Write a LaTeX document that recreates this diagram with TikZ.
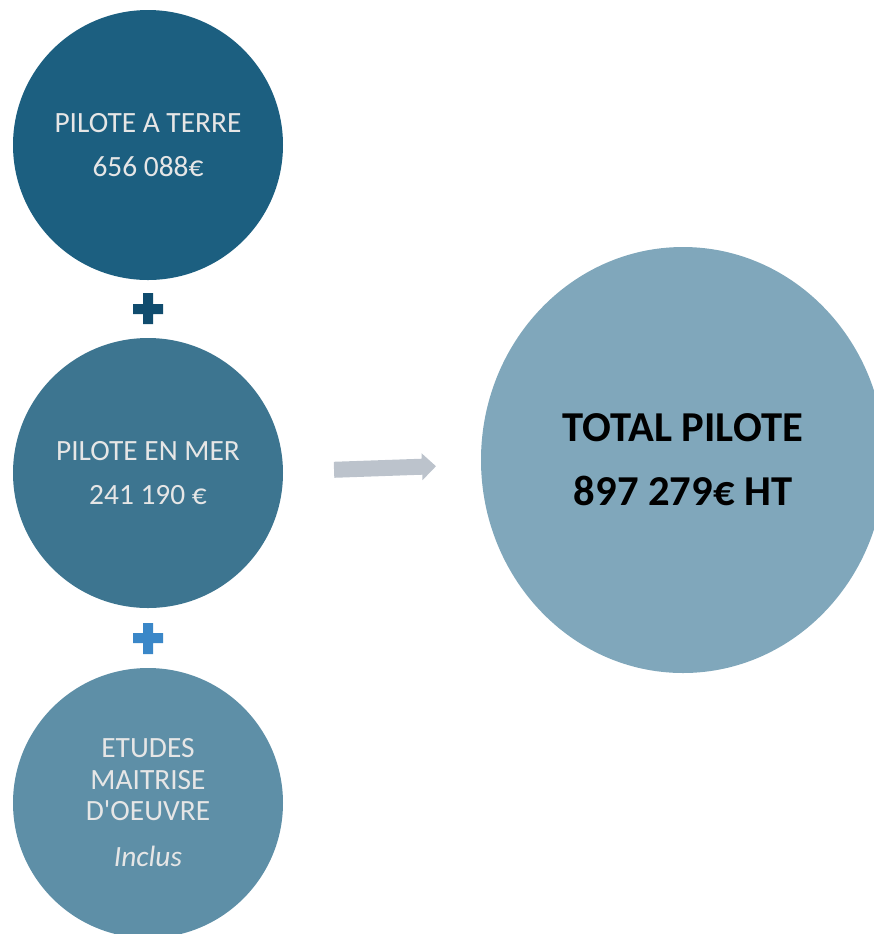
\documentclass[tikz,border=0pt]{standalone}
\usepackage{fontspec}
\setmainfont{Carlito}
\definecolor{terreblue}{RGB}{28, 95, 128}
\definecolor{merblue}{RGB}{61, 117, 144}
\definecolor{etudeblue}{RGB}{94, 143, 167}
\definecolor{totalblue}{RGB}{128, 167, 187}
\definecolor{plusdark}{RGB}{16, 76, 110}
\definecolor{pluslight}{RGB}{58, 135, 200}
\definecolor{arrowgrey}{RGB}{188, 195, 204}
\definecolor{labelgrey}{RGB}{230, 230, 230}
\usetikzlibrary{shapes.geometric, positioning, calc}

\begin{document}
\begin{tikzpicture}[x=0.5pt, y=-0.5pt,
    costcircle/.style={circle, minimum size=135pt, inner sep=0pt, align=center,
      text=labelgrey, font=\fontsize{14.7}{22}\selectfont},
    plussign/.style={fill=#1}]
  \useasboundingbox (0,0) rectangle (874,934);
  \clip (0,0) rectangle (874,934);

  \node[costcircle, fill=terreblue] (terre) at (148,145) {PILOTE A TERRE\\656 088€};
  \node[costcircle, fill=merblue] (mer) at (148,473) {PILOTE EN MER\\241 190 €};
  \node[costcircle, fill=etudeblue, font=\fontsize{14.7}{15.75}\selectfont] (etudes) at (148,803)
    {ETUDES\\MAITRISE\\D\textquotesingle OEUVRE\\[7.25pt]\textit{Inclus}};

  \node[ellipse, minimum width=202pt, minimum height=213pt, inner sep=0pt, fill=totalblue,
    align=center, font=\fontsize{21.3}{32}\selectfont\bfseries] (total) at (683,460)
    {TOTAL PILOTE\\897 279€ HT};

  % plus signs between the circles
  \fill[plussign=plusdark] (133,304) rectangle (163,314) (143,293) rectangle (153,324);
  \fill[plussign=pluslight] (133,633) rectangle (163,643) (143,623) rectangle (153,654);

  % arrow towards the total
  \fill[arrowgrey, rotate around={2:(385,468)}]
    (334,460) -- (422,460) -- (422,454.5) -- (436,468) -- (422,481.5) -- (422,476) -- (334,476) -- cycle;
\end{tikzpicture}
\end{document}
